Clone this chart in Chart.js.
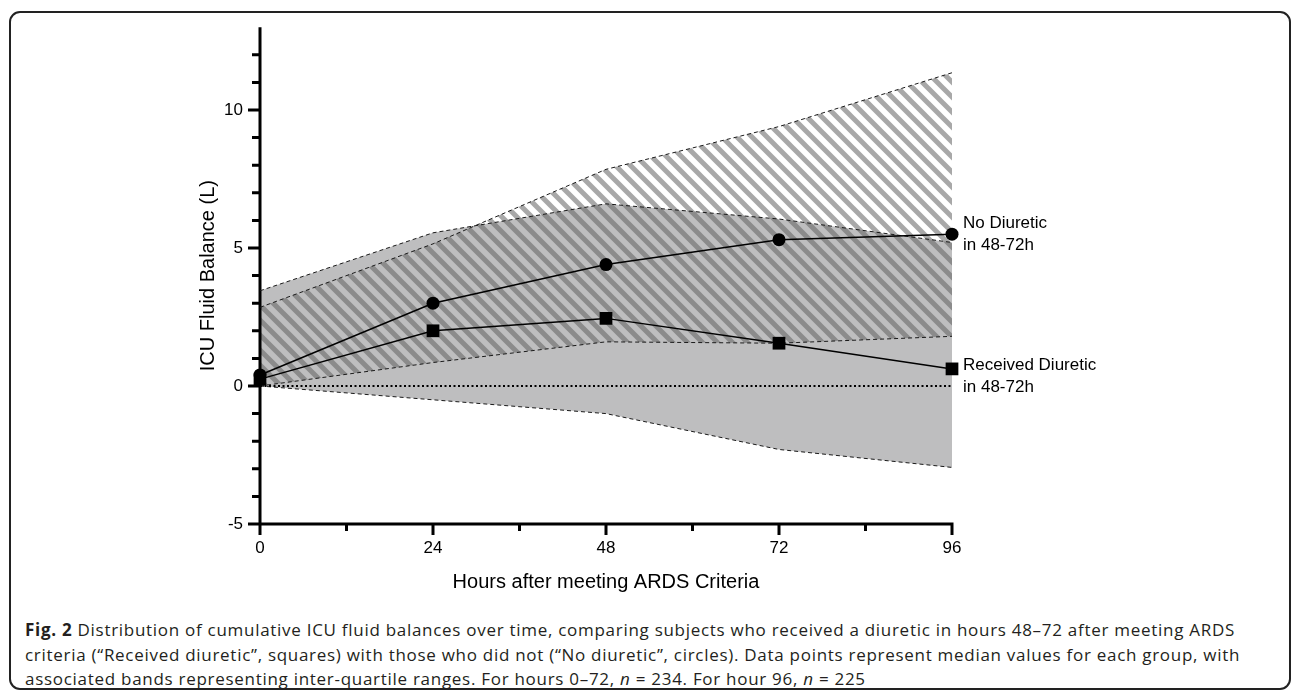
<!DOCTYPE html>
<html>
<head>
<meta charset="utf-8">
<script src="https://cdn.jsdelivr.net/npm/chart.js@4.4.1/dist/chart.umd.min.js"></script>
<style>
  html, body { margin: 0; padding: 0; background: #fff; }
  body { width: 1293px; height: 697px; position: relative; overflow: hidden; }
  #frame { position: absolute; left: 9px; top: 11px; width: 1282px; height: 679px;
           border: 2px solid #222; border-radius: 11px; box-sizing: border-box; }
  #chart { position: absolute; left: 0; top: 0; }
  #caption { position: absolute; left: 25px; top: 618px; font-family: "Open Sans", Lato, sans-serif;
             font-size: 17px; line-height: 24.5px; color: #231f20; white-space: nowrap; }
  #caption b { font-weight: 700; }
  #caption div { display: block; }
  #caption span.line { display: inline-block; }
</style>
</head>
<body>
<div id="frame"></div>
<canvas id="chart" width="1293" height="600"></canvas>
<div id="caption">
  <div><span class="line" id="cap1"><b>Fig. 2</b> Distribution of cumulative ICU fluid balances over time, comparing subjects who received a diuretic in hours 48–72 after meeting ARDS</span></div>
  <div><span class="line">criteria (“Received diuretic”, squares) with those who did not (“No diuretic”, circles). Data points represent median values for each group, with</span></div>
  <div><span class="line">associated bands representing inter-quartile ranges. For hours 0–72, <i>n</i> = 234. For hour 96, <i>n</i> = 225</span></div>
</div>
<script>
// data (litres)
const hours = [0, 24, 48, 72, 96];
const noDiureticMedian = [0.4, 3.0, 4.4, 5.3, 5.5];
const noDiureticQ1 = [0, 0.85, 1.6, 1.55, 1.8];
const noDiureticQ3 = [2.85, 5.15, 7.85, 9.4, 11.35];
const diureticMedian = [0.25, 2.0, 2.45, 1.55, 0.62];
const diureticQ1 = [0, -0.5, -1.0, -2.3, -2.95];
const diureticQ3 = [3.45, 5.55, 6.6, 6.05, 5.2];
const zeroLine = [0, 0, 0, 0, 0];
const xTickLabels = [0, 24, 48, 72, 96];
const yTickLabels = [-5, 0, 5, 10];
const noDiureticLabel = ['No Diuretic', 'in 48-72h'];
const diureticLabel = ['Received Diuretic', 'in 48-72h'];

const pts = ys => hours.map((h, i) => ({ x: h, y: ys[i] }));

// fit caption width to the reference (first line ~1210px)
(function fitCaption() {
  const cap = document.getElementById('caption');
  const w = document.getElementById('cap1').getBoundingClientRect().width;
  const chars = document.getElementById('cap1').textContent.length;
  cap.style.letterSpacing = ((1210 - w) / chars).toFixed(3) + 'px';
})();

// diagonal hatch for the no-diuretic band
function hatch() {
  const s = 15;
  const c = document.createElement('canvas');
  c.width = s; c.height = s;
  const g = c.getContext('2d');
  g.strokeStyle = 'rgba(97,97,97,0.55)';
  g.lineWidth = 5;
  g.beginPath();
  for (const o of [-s, 0, s]) {
    g.moveTo(o - 3, -3);
    g.lineTo(o + s + 3, s + 3);
  }
  g.stroke();
  return g.createPattern(c, 'repeat');
}

const dashed = { borderColor: '#1a1a1a', borderWidth: 1, borderDash: [4, 3], pointRadius: 0, tension: 0 };
const armFont = 'Liberation Sans, Arial, sans-serif';

const axesPlugin = {
  id: 'axes',
  beforeDatasetsDraw(chart) {
    const { ctx, chartArea: a, scales: { x, y } } = chart;
    ctx.save();
    ctx.strokeStyle = '#000';
    ctx.lineWidth = 3;
    ctx.beginPath();
    ctx.moveTo(a.left, a.top);
    ctx.lineTo(a.left, a.bottom + 1.5);
    ctx.moveTo(a.left - 1.5, a.bottom);
    ctx.lineTo(a.right + 1.5, a.bottom);
    y.ticks.forEach(t => {
      if (t.value >= y.max) return;
      const py = y.getPixelForValue(t.value);
      const len = yTickLabels.includes(t.value) ? 12 : 8;
      ctx.moveTo(a.left, py);
      ctx.lineTo(a.left - len, py);
    });
    x.ticks.forEach(t => {
      const px = x.getPixelForValue(t.value);
      const len = xTickLabels.includes(t.value) ? 11 : 7;
      ctx.moveTo(px, a.bottom);
      ctx.lineTo(px, a.bottom + len);
    });
    ctx.stroke();
    ctx.restore();
  },
  afterDraw(chart) {
    const { ctx, scales: { x, y } } = chart;
    const last = hours.length - 1;
    const tx = x.getPixelForValue(hours[last]) + 11;
    ctx.save();
    ctx.fillStyle = '#000';
    ctx.font = '17px ' + armFont;
    ctx.textBaseline = 'middle';
    let py = y.getPixelForValue(noDiureticMedian[last]);
    ctx.fillText(noDiureticLabel[0], tx, py - 11);
    ctx.fillText(noDiureticLabel[1], tx, py + 11);
    py = y.getPixelForValue(diureticMedian[last]);
    ctx.fillText(diureticLabel[0], tx, py - 4);
    ctx.fillText(diureticLabel[1], tx, py + 18);
    ctx.restore();
  }
};

new Chart(document.getElementById('chart'), {
  type: 'line',
  data: {
    datasets: [
      {
        label: 'Received Diuretic', data: pts(diureticMedian), borderColor: '#000', borderWidth: 1.5,
        pointStyle: 'rect', pointRadius: 9, pointBackgroundColor: '#000', pointBorderWidth: 0,
        fill: false, clip: false, order: 0
      },
      {
        label: 'No Diuretic', data: pts(noDiureticMedian), borderColor: '#000', borderWidth: 1.5,
        pointStyle: 'circle', pointRadius: 6.5, pointBackgroundColor: '#000', pointBorderWidth: 0,
        fill: false, clip: false, order: 1
      },
      {
        label: 'zero', data: pts(zeroLine), borderColor: '#000', borderWidth: 2, borderDash: [2, 2.5],
        pointRadius: 0, fill: false, order: 2
      },
      { label: 'No Diuretic Q3', data: pts(noDiureticQ3), ...dashed, fill: '+1', backgroundColor: hatch(), order: 3 },
      { label: 'No Diuretic Q1', data: pts(noDiureticQ1), ...dashed, fill: false, order: 4 },
      { label: 'Received Q3', data: pts(diureticQ3), ...dashed, fill: '+1', backgroundColor: '#bebebf', order: 5 },
      { label: 'Received Q1', data: pts(diureticQ1), ...dashed, fill: false, order: 6 }
    ]
  },
  options: {
    responsive: false,
    animation: false,
    layout: { padding: { left: 190, right: 341, top: 27, bottom: 0 } },
    plugins: {
      legend: { display: false },
      tooltip: { enabled: false },
      filler: { drawTime: 'beforeDatasetsDraw' }
    },
    scales: {
      x: {
        type: 'linear', min: 0, max: 96,
        grid: { display: false, drawTicks: false },
        border: { display: false },
        ticks: {
          stepSize: 12, autoSkip: false, maxRotation: 0, padding: 14, color: '#000',
          font: { family: armFont, size: 17 },
          callback: v => xTickLabels.includes(v) ? String(v) : ''
        },
        title: {
          display: true, text: 'Hours after meeting ARDS Criteria', color: '#000',
          font: { family: armFont, size: 20 }, padding: { top: 0, bottom: 6 }
        },
        afterFit: s => { s.height = 76; }
      },
      y: {
        min: -5, max: 13,
        grid: { display: false, drawTicks: false },
        border: { display: false },
        ticks: {
          stepSize: 1, autoSkip: false, padding: 17, color: '#000',
          font: { family: armFont, size: 17 },
          callback: v => yTickLabels.includes(v) ? String(v) : ''
        },
        title: {
          display: true, text: 'ICU Fluid Balance (L)', color: '#000',
          font: { family: armFont, size: 20 }, padding: { top: 6, bottom: 0 }
        },
        afterFit: s => { s.width = 70; }
      }
    }
  },
  plugins: [axesPlugin]
});
</script>
</body>
</html>
